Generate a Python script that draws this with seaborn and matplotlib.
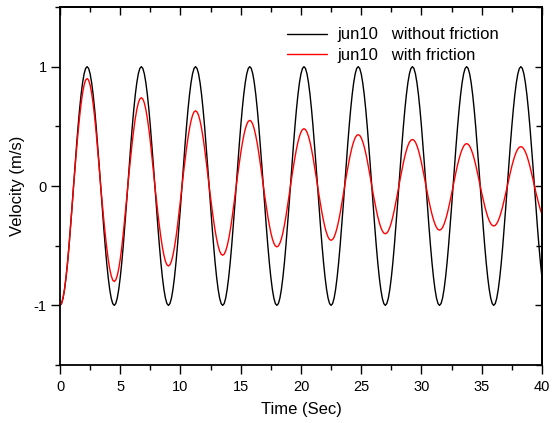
import numpy as np
import seaborn as sns
import pandas as pd
import matplotlib.pyplot as plt
from matplotlib.ticker import MultipleLocator

# sampled every 0.125 s from 0 to 40 s
time_step = 0.125
time = np.arange(0, 40 + time_step / 2, time_step)

# jun10 without friction (velocity, m/s), one period per line
v_no_friction = [
    -1.000, -0.985, -0.940, -0.866, -0.766, -0.643, -0.500, -0.342, -0.174, 0.000, 0.174, 0.342, 0.500, 0.643, 0.766, 0.866, 0.940, 0.985, 1.000, 0.985, 0.940, 0.866, 0.766, 0.643, 0.500, 0.342, 0.174, 0.000, -0.174, -0.342, -0.500, -0.643, -0.766, -0.866, -0.940, -0.985,
    -1.000, -0.985, -0.940, -0.866, -0.766, -0.643, -0.500, -0.342, -0.174, 0.000, 0.174, 0.342, 0.500, 0.643, 0.766, 0.866, 0.940, 0.985, 1.000, 0.985, 0.940, 0.866, 0.766, 0.643, 0.500, 0.342, 0.174, 0.000, -0.174, -0.342, -0.500, -0.643, -0.766, -0.866, -0.940, -0.985,
    -1.000, -0.985, -0.940, -0.866, -0.766, -0.643, -0.500, -0.342, -0.174, 0.000, 0.174, 0.342, 0.500, 0.643, 0.766, 0.866, 0.940, 0.985, 1.000, 0.985, 0.940, 0.866, 0.766, 0.643, 0.500, 0.342, 0.174, 0.000, -0.174, -0.342, -0.500, -0.643, -0.766, -0.866, -0.940, -0.985,
    -1.000, -0.985, -0.940, -0.866, -0.766, -0.643, -0.500, -0.342, -0.174, 0.000, 0.174, 0.342, 0.500, 0.643, 0.766, 0.866, 0.940, 0.985, 1.000, 0.985, 0.940, 0.866, 0.766, 0.643, 0.500, 0.342, 0.174, 0.000, -0.174, -0.342, -0.500, -0.643, -0.766, -0.866, -0.940, -0.985,
    -1.000, -0.985, -0.940, -0.866, -0.766, -0.643, -0.500, -0.342, -0.174, 0.000, 0.174, 0.342, 0.500, 0.643, 0.766, 0.866, 0.940, 0.985, 1.000, 0.985, 0.940, 0.866, 0.766, 0.643, 0.500, 0.342, 0.174, 0.000, -0.174, -0.342, -0.500, -0.643, -0.766, -0.866, -0.940, -0.985,
    -1.000, -0.985, -0.940, -0.866, -0.766, -0.643, -0.500, -0.342, -0.174, 0.000, 0.174, 0.342, 0.500, 0.643, 0.766, 0.866, 0.940, 0.985, 1.000, 0.985, 0.940, 0.866, 0.766, 0.643, 0.500, 0.342, 0.174, 0.000, -0.174, -0.342, -0.500, -0.643, -0.766, -0.866, -0.940, -0.985,
    -1.000, -0.985, -0.940, -0.866, -0.766, -0.643, -0.500, -0.342, -0.174, 0.000, 0.174, 0.342, 0.500, 0.643, 0.766, 0.866, 0.940, 0.985, 1.000, 0.985, 0.940, 0.866, 0.766, 0.643, 0.500, 0.342, 0.174, 0.000, -0.174, -0.342, -0.500, -0.643, -0.766, -0.866, -0.940, -0.985,
    -1.000, -0.985, -0.940, -0.866, -0.766, -0.643, -0.500, -0.342, -0.174, 0.000, 0.174, 0.342, 0.500, 0.643, 0.766, 0.866, 0.940, 0.985, 1.000, 0.985, 0.940, 0.866, 0.766, 0.643, 0.500, 0.342, 0.174, 0.000, -0.174, -0.342, -0.500, -0.643, -0.766, -0.866, -0.940, -0.985,
    -1.000, -0.985, -0.940, -0.866, -0.766, -0.643, -0.500, -0.342, -0.174, 0.000, 0.174, 0.342, 0.500, 0.643, 0.766, 0.866, 0.940, 0.985, 1.000, 0.985, 0.940, 0.866, 0.766, 0.643, 0.500, 0.342, 0.174, 0.000, -0.174, -0.342, -0.500, -0.643, -0.766,
]

# jun10 with friction (velocity, m/s), one swing per line
v_friction = [
    -1.000, -0.985, -0.940, -0.866, -0.766, -0.643, -0.500, -0.342, -0.174, 0.000,
    0.157, 0.308, 0.450, 0.579, 0.689, 0.779, 0.846, 0.887, 0.900, 0.887, 0.846, 0.779, 0.689, 0.579, 0.450, 0.308, 0.157, 0.000,
    -0.139, -0.274, -0.400, -0.514, -0.613, -0.693, -0.752, -0.788, -0.800, -0.788, -0.752, -0.693, -0.613, -0.514, -0.400, -0.274, -0.139, 0.000,
    0.129, 0.253, 0.370, 0.476, 0.567, 0.641, 0.696, 0.729, 0.740, 0.729, 0.696, 0.641, 0.567, 0.476, 0.370, 0.253, 0.129, 0.000,
    -0.117, -0.229, -0.335, -0.431, -0.513, -0.580, -0.630, -0.660, -0.670, -0.660, -0.630, -0.580, -0.513, -0.431, -0.335, -0.229, -0.117, 0.000,
    0.110, 0.215, 0.315, 0.405, 0.483, 0.546, 0.592, 0.621, 0.630, 0.621, 0.592, 0.546, 0.483, 0.405, 0.315, 0.215, 0.110, 0.000,
    -0.101, -0.198, -0.290, -0.373, -0.444, -0.502, -0.545, -0.571, -0.580, -0.571, -0.545, -0.502, -0.444, -0.373, -0.290, -0.198, -0.101, 0.000,
    0.096, 0.188, 0.275, 0.354, 0.421, 0.476, 0.517, 0.542, 0.550, 0.542, 0.517, 0.476, 0.421, 0.354, 0.275, 0.188, 0.096, 0.000,
    -0.089, -0.174, -0.255, -0.328, -0.391, -0.442, -0.479, -0.502, -0.510, -0.502, -0.479, -0.442, -0.391, -0.328, -0.255, -0.174, -0.089, 0.000,
    0.084, 0.164, 0.240, 0.309, 0.368, 0.416, 0.451, 0.473, 0.480, 0.473, 0.451, 0.416, 0.368, 0.309, 0.240, 0.164, 0.084, 0.000,
    -0.079, -0.156, -0.228, -0.293, -0.349, -0.394, -0.428, -0.448, -0.455, -0.448, -0.428, -0.394, -0.349, -0.293, -0.228, -0.156, -0.079, 0.000,
    0.075, 0.147, 0.215, 0.276, 0.329, 0.372, 0.404, 0.424, 0.430, 0.424, 0.404, 0.372, 0.329, 0.276, 0.215, 0.147, 0.075, 0.000,
    -0.070, -0.137, -0.200, -0.257, -0.306, -0.346, -0.376, -0.394, -0.400, -0.394, -0.376, -0.346, -0.306, -0.257, -0.200, -0.137, -0.070, 0.000,
    0.068, 0.133, 0.195, 0.251, 0.299, 0.338, 0.367, 0.384, 0.390, 0.384, 0.367, 0.338, 0.299, 0.251, 0.195, 0.133, 0.068, 0.000,
    -0.064, -0.127, -0.185, -0.238, -0.283, -0.320, -0.348, -0.364, -0.370, -0.364, -0.348, -0.320, -0.283, -0.238, -0.185, -0.127, -0.064, 0.000,
    0.062, 0.121, 0.178, 0.228, 0.272, 0.307, 0.334, 0.350, 0.355, 0.350, 0.334, 0.307, 0.272, 0.228, 0.178, 0.121, 0.062, 0.000,
    -0.058, -0.115, -0.168, -0.215, -0.257, -0.290, -0.315, -0.330, -0.335, -0.330, -0.315, -0.290, -0.257, -0.215, -0.168, -0.115, -0.058, 0.000,
    0.057, 0.113, 0.165, 0.212, 0.253, 0.286, 0.310, 0.325, 0.330, 0.325, 0.310, 0.286, 0.253, 0.212, 0.165, 0.113, 0.057, 0.000,
    -0.054, -0.106, -0.155, -0.199, -0.237,
]

labels = ["jun10   without friction", "jun10   with friction"]
colors = ["black", "red"]

df = pd.DataFrame({"time": time,
                   labels[0]: v_no_friction,
                   labels[1]: v_friction})
d = df.melt(id_vars="time", var_name="series", value_name="velocity")

sns.set_theme(style="ticks")
plt.rcParams['font.family'] = ['Liberation Sans', 'DejaVu Sans']
plt.rcParams['axes.unicode_minus'] = False
plt.rcParams['text.color'] = 'black'
plt.rcParams['axes.labelcolor'] = 'black'

fig = plt.figure(figsize=(5.53, 4.23), dpi=100)
ax = fig.add_axes([0.1085, 0.137, 0.8715, 0.8465])

sns.lineplot(data=d, x="time", y="velocity", hue="series",
             palette=dict(zip(labels, colors)), linewidth=1.0, ax=ax)

ax.set_xlim(0, 40)
ax.set_ylim(-1.5, 1.5)
ax.xaxis.set_major_locator(MultipleLocator(5))
ax.xaxis.set_minor_locator(MultipleLocator(2.5))
ax.set_yticks([-1, 0, 1])
ax.set_yticklabels(["-1", "0", "1"])
ax.yaxis.set_minor_locator(MultipleLocator(0.5))

for s in ax.spines.values():
    s.set_visible(True)
    s.set_linewidth(1.3)
    s.set_color("black")

# bottom and left: outward ticks with labels
ax.tick_params(which="both", direction="out", colors="black", width=1.0,
               labelsize=10.5, top=False, right=False)
ax.tick_params(which="major", length=6.5)
ax.tick_params(which="minor", length=3.5)
ax.tick_params(axis="x", pad=4)
ax.tick_params(axis="y", pad=3)

# top and right: inward ticks, no labels
secx = ax.secondary_xaxis("top")
secx.xaxis.set_major_locator(MultipleLocator(5))
secx.xaxis.set_minor_locator(MultipleLocator(2.5))
secx.tick_params(which="both", direction="in", width=1.0, colors="black", labeltop=False)
secx.tick_params(which="major", length=6)
secx.tick_params(which="minor", length=3.5)
secx.spines["top"].set_linewidth(1.3)
secx.spines["top"].set_color("black")

secy = ax.secondary_yaxis("right")
secy.yaxis.set_major_locator(MultipleLocator(1))
secy.yaxis.set_minor_locator(MultipleLocator(0.5))
secy.tick_params(which="both", direction="in", width=1.0, colors="black", labelright=False)
secy.tick_params(which="major", length=5)
secy.tick_params(which="minor", length=4)
secy.spines["right"].set_linewidth(1.3)
secy.spines["right"].set_color("black")

ax.set_xlabel("Time (Sec)", fontsize=12, labelpad=6, color="black")
ax.set_ylabel("Velocity (m/s)", fontsize=12, labelpad=6, color="black")

leg = ax.legend(loc="upper left", bbox_to_anchor=(0.471, 0.943), frameon=False,
                fontsize=12, handlelength=2.4, handletextpad=0.6,
                borderaxespad=0, borderpad=0, labelspacing=0.33)
for t in leg.get_texts():
    t.set_color("black")

plt.savefig("out.png", dpi=100)
